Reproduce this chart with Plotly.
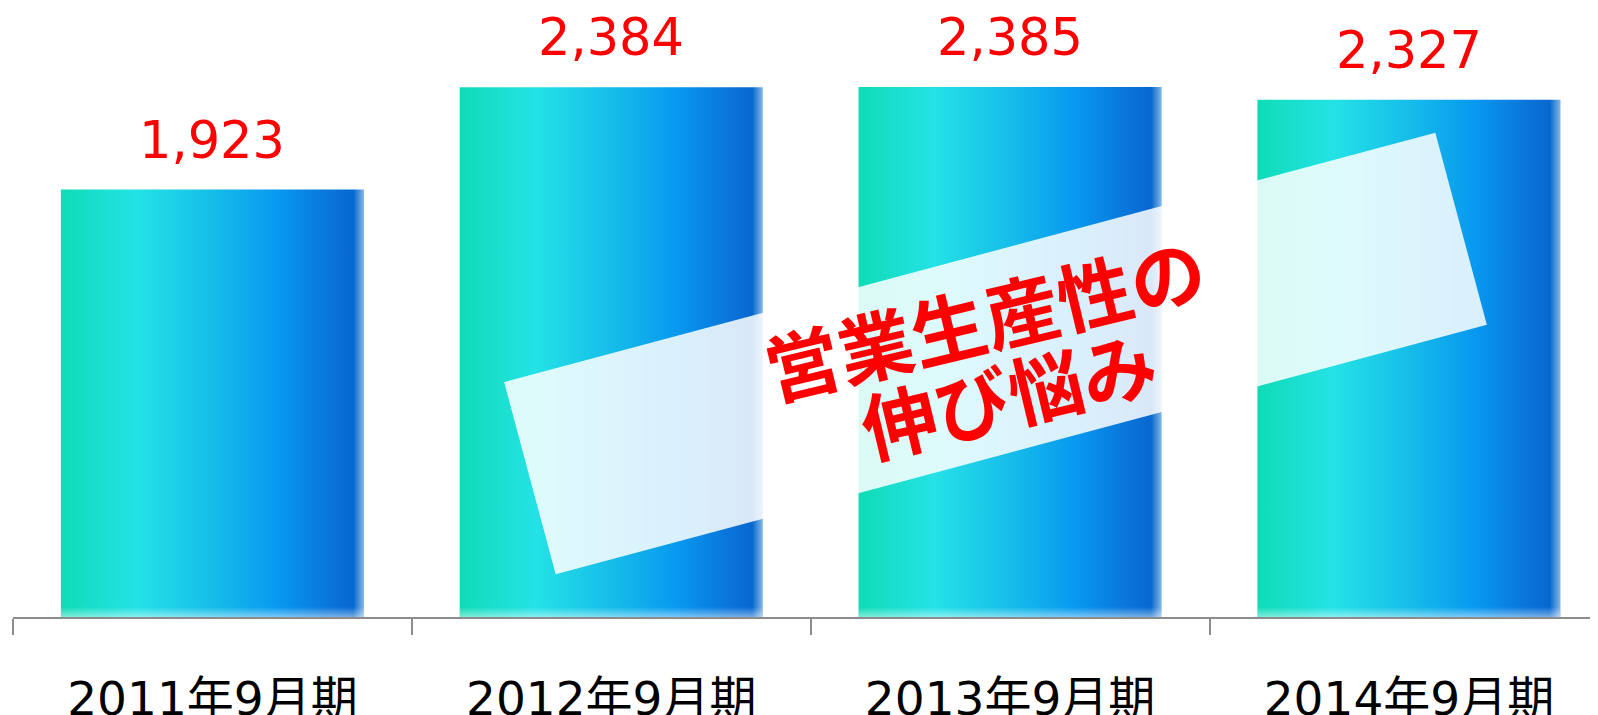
import math
import plotly.graph_objects as go

# ---- data ----
categories = ["2011年9月期", "2012年9月期", "2013年9月期", "2014年9月期"]
values = [1923, 2384, 2385, 2327]
value_labels = ["1,923", "2,384", "2,385", "2,327"]
callout_lines = ["営業生産性の", "伸び悩み"]

# ---- layout constants ----
# the page body adds an 8px offset, so the figure is sized to fit the window
OFF = 8
W, H = 1598 - OFF, 715 - OFF
ML, MR, MT, MB = 13 - OFF, 0, 0, 98
PLOT_W = W - ML - MR
PLOT_H = H - MT - MB
X_RANGE = [-0.5, 3.474]
Y_RANGE = [0, 2740]
BAR_W = 0.76

bar_scale = [
    [0.00, "#0fdcb6"],
    [0.25, "#24e2e6"],
    [0.50, "#16bde9"],
    [0.72, "#0898f0"],
    [0.90, "#0a72d8"],
    [0.965, "#0668d0"],
    [1.00, "#86b8e8"],
]

fig = go.Figure()

px_per_unit = PLOT_H / (Y_RANGE[1] - Y_RANGE[0])
fade_units = 10 / px_per_unit

for i, v in enumerate(values):
    x0, x1 = i - BAR_W / 2, i + BAR_W / 2
    fig.add_trace(go.Scatter(
        x=[x0, x1, x1, x0, x0], y=[0, 0, v, v, 0],
        mode="lines", line=dict(width=0), fill="toself",
        fillgradient=dict(type="horizontal", colorscale=bar_scale),
        hoverinfo="skip", showlegend=False,
    ))
    # soft light fade along the bottom of each bar
    fig.add_trace(go.Scatter(
        x=[x0, x1, x1, x0, x0], y=[0, 0, fade_units, fade_units, 0],
        mode="lines", line=dict(width=0), fill="toself",
        fillgradient=dict(type="vertical", colorscale=[
            [0, "rgba(255,255,255,0.45)"], [1, "rgba(255,255,255,0)"]]),
        hoverinfo="skip", showlegend=False,
    ))

# value labels
for i, (v, lab) in enumerate(zip(values, value_labels)):
    fig.add_annotation(
        x=i, y=v, text=lab, showarrow=False, xanchor="center", yanchor="bottom",
        yshift=18, font=dict(family="DejaVu Sans", size=51, color="#ff0000"),
    )

# rotated translucent callout box (page-pixel geometry -> paper coords)
def to_paper(px, py):
    fx, fy = px - OFF, py - OFF
    return (fx - ML) / PLOT_W, (MT + PLOT_H - fy) / PLOT_H

cx, cy, L, Hh, ang = 995.5, 353.5, 964, 199, 15.0
a = math.radians(ang)
ux, uy = math.cos(a), -math.sin(a)      # along box
vx, vy = math.sin(a), math.cos(a)       # down the box
corners = []
for s, t in [(-1, -1), (1, -1), (1, 1), (-1, 1)]:
    px = cx + s * L / 2 * ux + t * Hh / 2 * vx
    py = cy + s * L / 2 * uy + t * Hh / 2 * vy
    corners.append(to_paper(px, py))
path = "M " + " L ".join(f"{x:.5f},{y:.5f}" for x, y in corners) + " Z"
fig.add_shape(type="path", path=path, xref="paper", yref="paper",
              fillcolor="rgba(255,255,255,0.85)", line=dict(width=0), layer="above")

text_centers = [(984, 316), (1008, 392)]
for line, (tx, ty) in zip(callout_lines, text_centers):
    xp, yp = to_paper(tx, ty)
    fig.add_annotation(
        x=xp, y=yp, xref="paper", yref="paper", text=f"<b>{line}</b>",
        showarrow=False, textangle=-13.5, xanchor="center", yanchor="middle",
        font=dict(family="Noto Sans CJK JP", size=75, color="#ff0000"),
    )

fig.update_layout(
    width=W, height=H,
    margin=dict(l=ML, r=MR, t=MT, b=MB, pad=0, autoexpand=False),
    plot_bgcolor="white", paper_bgcolor="white",
    showlegend=False,
    xaxis=dict(
        range=X_RANGE, showgrid=False, zeroline=False, automargin=False,
        showline=True, linecolor="#8c8c8c", linewidth=1.5,
        tickmode="array", tickvals=list(range(len(categories))), ticktext=categories,
        ticks="outside", ticklen=16, tickcolor="rgba(0,0,0,0)",
        ticklabelstandoff=24,
        tickfont=dict(family="DejaVu Sans, Noto Sans CJK JP", size=47, color="#000000"),
        minor=dict(tickmode="array", tickvals=[k - 0.5 for k in range(len(categories) + 1)],
                   ticks="outside", ticklen=16, tickwidth=1.5, tickcolor="#8c8c8c",
                   showgrid=False),
        fixedrange=True,
    ),
    yaxis=dict(range=Y_RANGE, visible=False, fixedrange=True, automargin=False),
)

fig.write_html("out.html")
